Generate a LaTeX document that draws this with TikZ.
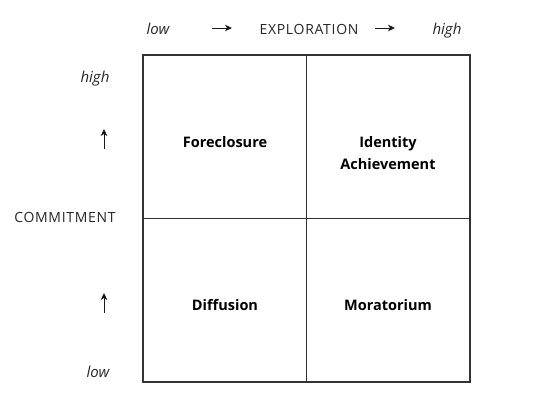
\documentclass[tikz,border=0pt]{standalone}
\usepackage{fontspec}
\setmainfont{Open Sans}
\usepackage{xcolor}
\usepackage{tikz}
\usetikzlibrary{arrows.meta,positioning,calc}

\begin{document}
\begin{tikzpicture}[
x=1pt,
y=-1pt,
every node/.style={font=\fontsize{14}{16}\selectfont,text=black!85,inner sep=0pt},
axislbl/.style={font=\fontsize{14}{16}\selectfont\addfontfeatures{LetterSpace=5},anchor=base},
endlbl/.style={font=\fontsize{15}{17}\selectfont\itshape,anchor=base},
statuslbl/.style={font=\fontsize{14.5}{22}\selectfont\bfseries,align=center,text=black},
gridline/.style={draw=black!80,line width=1.2pt},
axisarr/.style={-{Stealth[length=7pt,width=6.5pt,inset=2pt]},line width=0.9pt,draw=black!90}
]
\useasboundingbox (0,0) rectangle (550,417);

% exploration axis
\node[endlbl] (xlow) at (158,35) {low};
\node[axislbl] (xlbl) at (309,35) {EXPLORATION};
\node[endlbl] (xhigh) at (447,35) {high};
\coordinate (xa1) at (212,28);
\coordinate (xb1) at (232,28);
\coordinate (xa2) at (375,28);
\coordinate (xb2) at (395,28);
\draw[axisarr] (xa1) -- (xb1);
\draw[axisarr] (xa2) -- (xb2);

% commitment axis
\node[endlbl] (yhigh) at (95,83) {high};
\node[axislbl] (ylbl) at (65,223) {COMMITMENT};
\node[endlbl] (ylow) at (98,378) {low};
\coordinate (ya1) at (104,149);
\coordinate (yb1) at (104,129);
\coordinate (ya2) at (104,313);
\coordinate (yb2) at (104,293);
\draw[axisarr] (ya1) -- (yb1);
\draw[axisarr] (ya2) -- (yb2);

% the four statuses
\coordinate (nw) at (143,55);
\coordinate (se) at (470,382);
\coordinate (mid) at (306.5,218.5);
\draw[gridline] (nw) rectangle (se);
\draw[gridline] (nw -| mid) -- (se -| mid);
\draw[gridline] (nw |- mid) -- (se |- mid);

\node[statuslbl] (foreclosure) at (225,142) {Foreclosure};
\node[statuslbl] (achievement) at (388,153) {Identity\\Achievement};
\node[statuslbl] (diffusion) at (225,305) {Diffusion};
\node[statuslbl] (moratorium) at (388,305) {Moratorium};
\end{tikzpicture}
\end{document}
